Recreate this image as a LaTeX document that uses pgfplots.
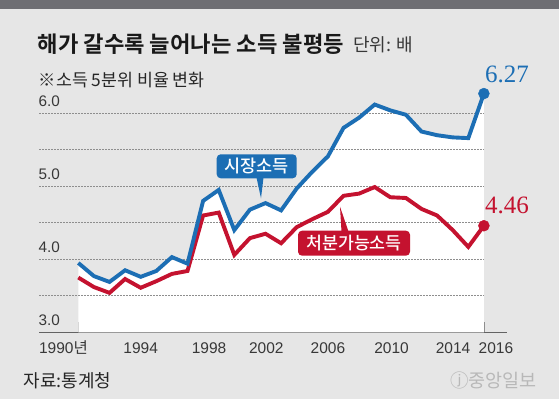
\documentclass[border=0pt]{standalone}
\usepackage{fontspec}
\usepackage{pgfplots}
\pgfplotsset{compat=1.18}
\usepackage{pgfplotstable}
\setmainfont{Liberation Sans}
\newfontfamily\kr{Noto Sans CJK KR}
\newfontfamily\krm{Noto Sans CJK KR Medium}
\newfontfamily\krb{Noto Sans CJK KR Bold}
\newfontfamily\serifnum{Liberation Serif}
\definecolor{bg}{HTML}{E6E6E6}
\definecolor{topbar}{HTML}{6E6E73}
\definecolor{mblue}{HTML}{1C6EB4}
\definecolor{dred}{HTML}{C4122F}
\definecolor{txt}{HTML}{383838}
\definecolor{gridc}{HTML}{8E8E8E}
\definecolor{logo}{HTML}{B8B8B8}

\pgfplotstableread{
year mkt disp
1990 3.95 3.75
1991 3.77 3.62
1992 3.69 3.54
1993 3.85 3.73
1994 3.76 3.61
1995 3.84 3.70
1996 4.03 3.80
1997 3.94 3.84
1998 4.80 4.60
1999 4.95 4.64
2000 4.40 4.06
2001 4.68 4.29
2002 4.77 4.35
2003 4.67 4.22
2004 4.97 4.44
2005 5.20 4.55
2006 5.41 4.65
2007 5.80 4.87
2008 5.94 4.90
2009 6.12 4.99
2010 6.04 4.85
2011 5.98 4.84
2012 5.75 4.69
2013 5.70 4.60
2014 5.67 4.40
2015 5.66 4.17
2016 6.27 4.46
}\ineq

\begin{document}
\begin{tikzpicture}[x=1pt,y=1pt]
\fill[bg] (0,0) rectangle (559,399);
\fill[topbar] (0,390) rectangle (559,399);
\begin{axis}[
  at={(39.3pt,66.7pt)}, anchor=south west,
  scale only axis, width=468pt, height=248.2pt,
  xmin=1987.5, xmax=2017.5, ymin=3, ymax=6.4,
  clip mode=individual,
  axis x line*=bottom, axis y line*=left,
  y axis line style={draw=none},
  x axis line style={draw=gridc!70!black, line width=0.8pt},
  ytick=\empty,
  xtick={1990,1994,1998,2002,2006,2010,2014,2016},
  xticklabels={},
  minor xtick={1991,1992,...,2015},
  tick align=inside,
  major tick length=10.7pt, minor tick length=5.7pt,
  every tick/.style={draw=gridc, line width=0.7pt},
  extra x ticks={1989.05,1994,1998.38,2002.05,2006,2010.08,2014.02,2016.77},
  extra x tick labels={1990{\kr 년},1994,1998,2002,2006,2010,2014,2016},
  extra x tick style={major tick length=0pt, every tick/.style={draw=none}},
  xticklabel style={anchor=base, inner sep=0pt, yshift=-20.7pt, text=txt,
    font=\fontsize{15.5}{15.5}\selectfont},
]
\addplot[fill=white, draw=none] table[x=year,y=mkt]{\ineq} \closedcycle;
\foreach \v in {3.5,4.0,4.5,5.0,5.5,6.0}{
  \edef\temp{\noexpand\draw[gridc, dash pattern=on 1.6pt off 1.4pt, line width=0.7pt] (axis cs:1987.5,\v) -- (axis cs:2016,\v);}
  \temp
}
\foreach \v in {3,4,5,6}{
  \edef\temp{\noexpand\node[anchor=base west, inner sep=0pt, xshift=-1pt, yshift=7pt, text=txt, font=\noexpand\fontsize{15.3}{15.3}\noexpand\selectfont] at (axis cs:1987.5,\v) {\v.0};}
  \temp
}
\addplot[dred, line width=3.9pt] table[x=year,y=disp]{\ineq};
\addplot[mblue, line width=3.9pt] table[x=year,y=mkt]{\ineq};
\addplot[only marks, mark=*, mark size=5.5pt, dred] coordinates {(2016,4.46)};
\addplot[only marks, mark=*, mark size=5.5pt, mblue] coordinates {(2016,6.27)};
\end{axis}
% titles
\node[anchor=base west, inner sep=0pt, font=\krb\fontsize{22.2}{22.2}\selectfont, text=black!90] at (37.6,346.3) {해가 갈수록 늘어나는 소득 불평등};
\node[anchor=base west, inner sep=0pt, font=\kr\fontsize{18}{18}\selectfont, text=txt] at (353,347.3) {단위: 배};
\node[anchor=base west, inner sep=0pt, font=\kr\fontsize{17.3}{17.3}\selectfont, text=black!85] at (38.7,312) {※소득 5분위 비율 변화};
% end values
\node[anchor=base west, inner sep=0pt, text=mblue, font=\serifnum\fontsize{25}{25}\selectfont] at (485,316.3) {6.27};
\node[anchor=base west, inner sep=0pt, text=dred, font=\serifnum\fontsize{25}{25}\selectfont] at (485,185.3) {4.46};
% series labels
\fill[mblue] (256.5,221.5) -- (261,200.7) -- (263.5,221.5) -- cycle;
\node[fill=mblue, rounded corners=4pt, text=white, minimum width=80pt, minimum height=24pt, inner sep=0pt, font=\krm\fontsize{17.5}{17.5}\selectfont] at (256.7,232.7) {시장소득};
\fill[dred] (341.5,167.5) -- (340,192.3) -- (348.5,167.5) -- cycle;
\node[fill=dred, rounded corners=4pt, text=white, minimum width=112pt, minimum height=25pt, inner sep=0pt, font=\krm\fontsize{17.3}{17.3}\selectfont] at (354,155.8) {처분가능소득};
% footer
\node[anchor=base west, inner sep=0pt, font=\kr\fontsize{18}{18}\selectfont, text=black!85] at (23.3,11.2) {자료:통계청};
\node[anchor=base west, inner sep=0pt, font=\kr\fontsize{18.5}{18.5}\selectfont, text=logo] at (450,12) {ⓙ중앙일보};
\pgfresetboundingbox
\useasboundingbox (0,0) rectangle (559,399);
\end{tikzpicture}
\end{document}
